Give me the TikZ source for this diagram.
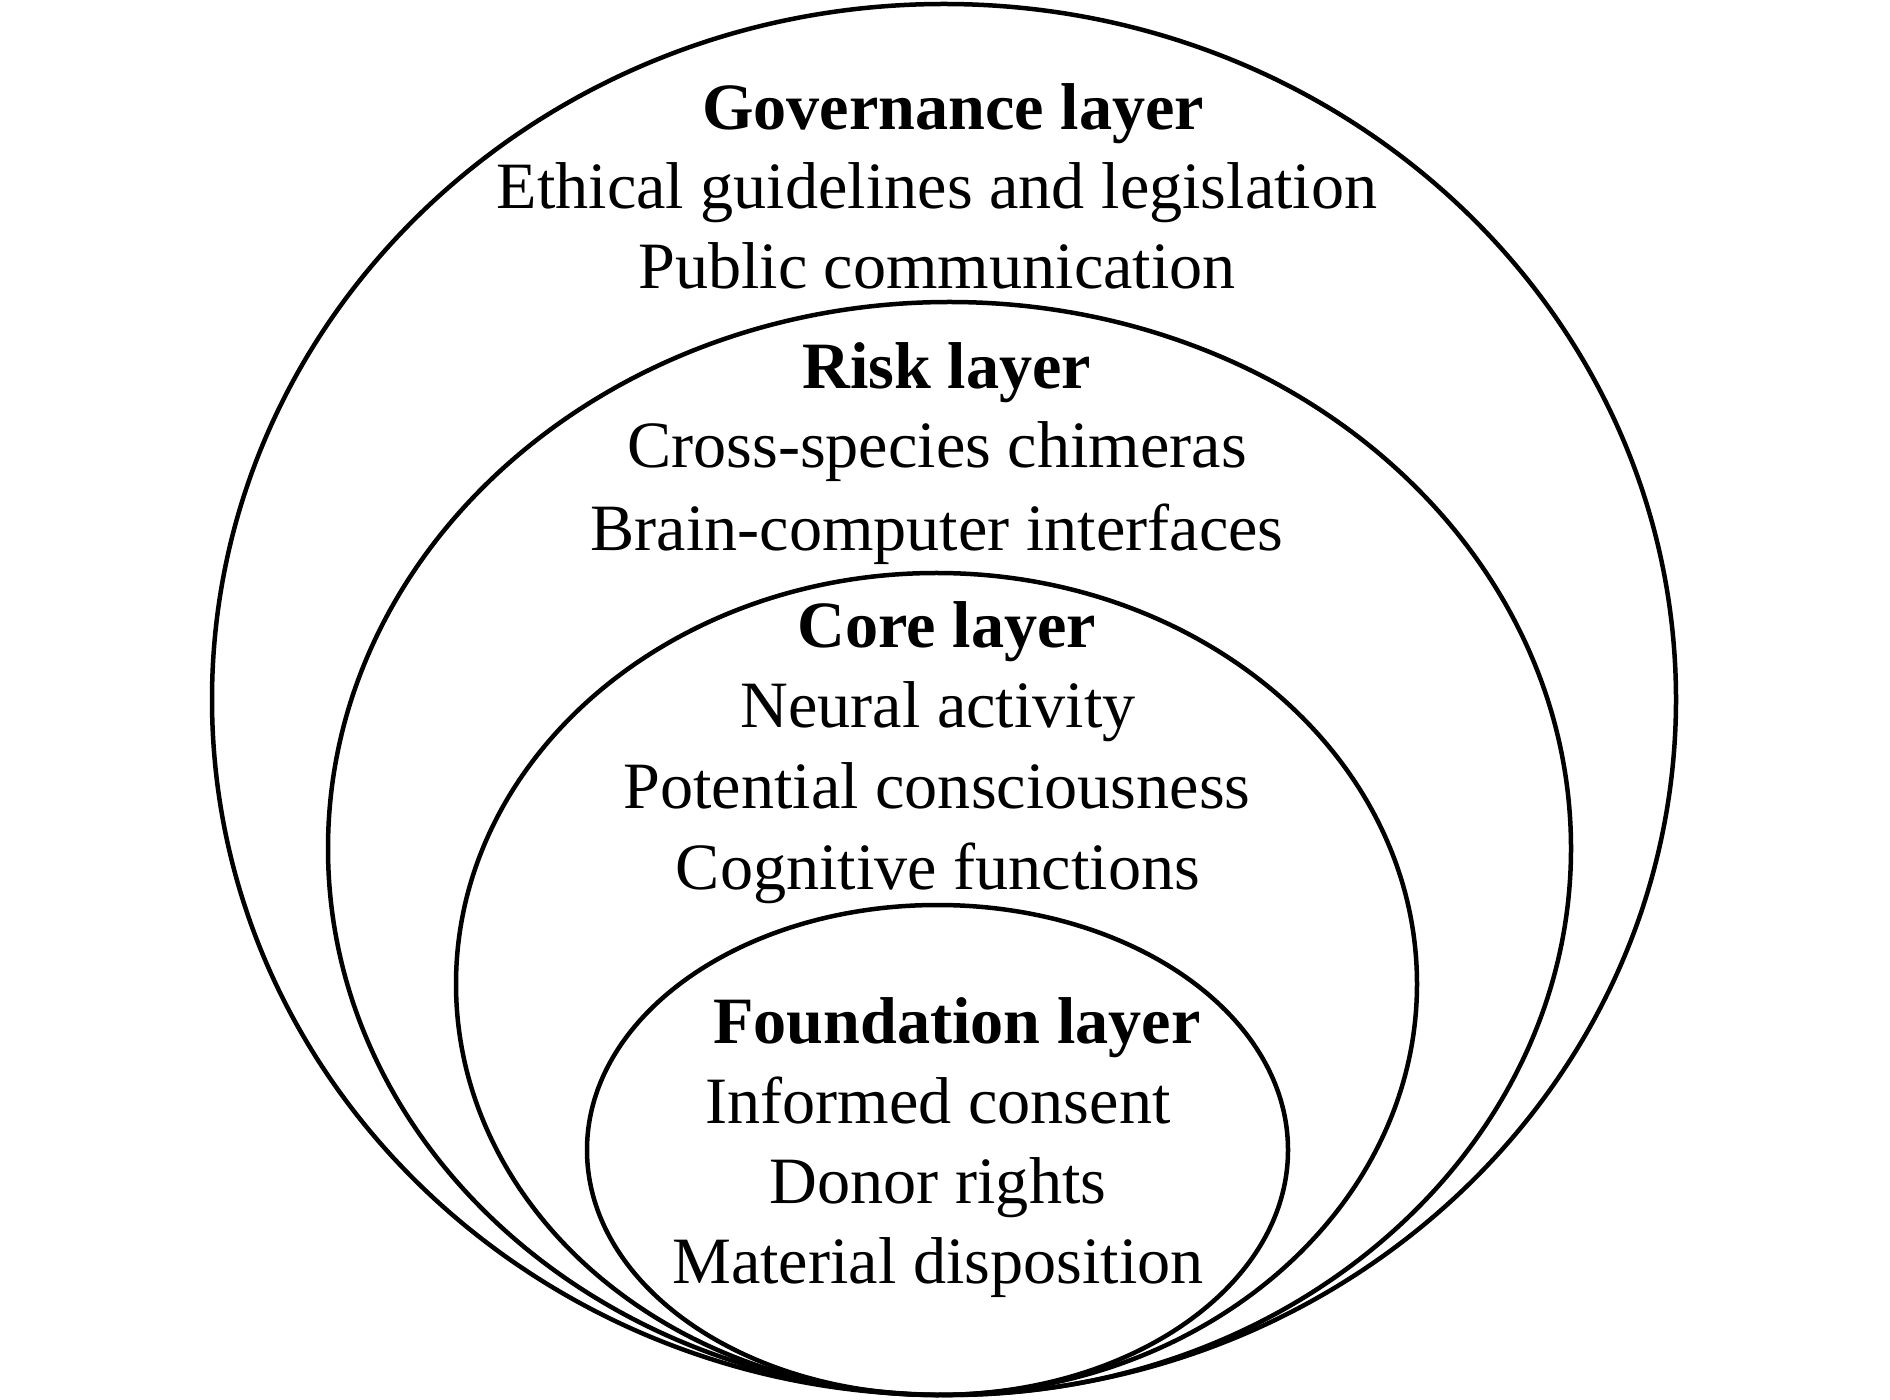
\documentclass[tikz,border=0pt]{standalone}
\usepackage{fontspec}
\setmainfont{Liberation Serif}
\usetikzlibrary{shapes.geometric}
\begin{document}
\begin{tikzpicture}[x=0.5pt,y=-0.5pt,
  layerring/.style={draw=black,line width=2.25pt,shape=ellipse,inner sep=0pt,outer sep=0pt},
  head/.style={anchor=base,inner sep=0pt,font=\fontsize{33.1}{40}\selectfont\bfseries},
  item/.style={anchor=base,inner sep=0pt,font=\fontsize{33.1}{40}\selectfont}]
\useasboundingbox (0,0) rectangle (1890,1400);
% layers
\node[layerring,minimum width=732pt,minimum height=695.5pt] (gov) at (944,699.5) {};
\node[layerring,minimum width=621.5pt,minimum height=546.5pt] (risk) at (949.5,848.5) {};
\node[layerring,minimum width=480.5pt,minimum height=411pt] (core) at (936.5,984) {};
\node[layerring,minimum width=350.5pt,minimum height=245pt] (found) at (937.5,1150) {};
% governance
\node[head] (govh) at (953,130) {Governance layer};
\node[item] (gov1) at (937,209) {Ethical guidelines and legislation};
\node[item] (gov2) at (937,289) {Public communication};
% risk
\node[head] (riskh) at (947,389) {Risk layer};
\node[item] (risk1) at (937,468) {Cross-species chimeras};
\node[item] (risk2) at (937,551) {Brain-computer interfaces};
% core
\node[head] (coreh) at (947,648) {Core layer};
\node[item] (core1) at (938,728) {Neural activity};
\node[item] (core2) at (937,809) {Potential consciousness};
\node[item] (core3) at (938,889) {Cognitive functions};
% foundation
\node[head] (foundh) at (957,1043) {Foundation layer};
\node[item] (found1) at (938,1123) {Informed consent};
\node[item] (found2) at (938,1203) {Donor rights};
\node[item] (found3) at (938,1283) {Material disposition};
\end{tikzpicture}
\end{document}
